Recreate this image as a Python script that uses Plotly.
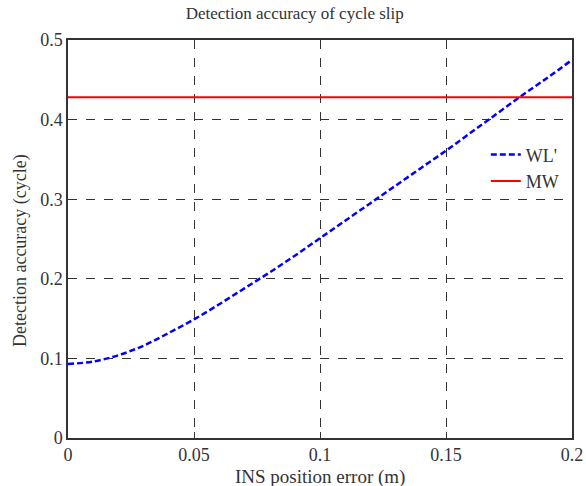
import plotly.graph_objects as go

ins_error = [0.00, 0.01, 0.02, 0.03, 0.04, 0.05, 0.06, 0.07, 0.08, 0.09, 0.10,
             0.11, 0.12, 0.13, 0.14, 0.15, 0.16, 0.17, 0.18, 0.19, 0.20]
wl_acc = [0.093, 0.096, 0.104, 0.116, 0.132, 0.149, 0.168, 0.188, 0.208, 0.229, 0.251,
          0.273, 0.295, 0.317, 0.339, 0.361, 0.384, 0.407, 0.430, 0.452, 0.475]
mw_x = [0.0, 0.2]
mw_acc = [0.428, 0.428]

x_ticks = [0, 0.05, 0.1, 0.15, 0.2]
x_labels = ["0", "0.05", "0.1", "0.15", "0.2"]
y_ticks = [0, 0.1, 0.2, 0.3, 0.4, 0.5]
y_labels = ["0", "0.1", "0.2", "0.3", "0.4", "0.5"]

font = "Liberation Serif"
txt = "#333"

fig = go.Figure()
fig.add_trace(go.Scatter(x=ins_error, y=wl_acc, mode="lines", name="WL'",
                         line=dict(color="#0000ff", width=2.5, dash="6px,3px", shape="spline")))
fig.add_trace(go.Scatter(x=mw_x, y=mw_acc, mode="lines", name="MW",
                         line=dict(color="#ff0000", width=2)))

axis_common = dict(showline=True, linecolor="#333", linewidth=1.5, mirror=True,
                   ticks="inside", ticklen=6, tickcolor="#333",
                   showgrid=True, gridcolor="#333", gridwidth=1, griddash="dash",
                   zeroline=False, automargin=False,
                   tickfont=dict(family=font, size=18, color=txt))

fig.update_xaxes(range=[0, 0.2], tickvals=x_ticks, ticktext=x_labels, **axis_common)
fig.update_yaxes(range=[0, 0.5], tickvals=y_ticks, ticktext=y_labels, **axis_common)

fig.add_annotation(text="INS position error (m)", xref="paper", yref="paper",
                   x=0.5, y=-0.097, xanchor="center", yanchor="middle",
                   showarrow=False, font=dict(family=font, size=19, color=txt))
fig.add_annotation(text="Detection accuracy (cycle)", xref="paper", yref="paper",
                   x=-0.093, y=0.47, xanchor="center", yanchor="middle", textangle=-90,
                   showarrow=False, font=dict(family=font, size=18, color=txt))

fig.update_layout(
    width=586, height=486,
    margin=dict(l=68, r=14, t=40, b=48),
    plot_bgcolor="white", paper_bgcolor="white",
    title=dict(text="Detection accuracy of cycle slip", x=0.503, xanchor="center",
               y=0.985, yanchor="top", font=dict(family=font, size=17, color=txt)),
    legend=dict(x=0.829, y=0.758, xanchor="left", yanchor="top",
                bgcolor="rgba(255,255,255,1)", borderwidth=0,
                font=dict(family=font, size=18, color=txt)),
    showlegend=True,
)

fig.write_html("out.html")
